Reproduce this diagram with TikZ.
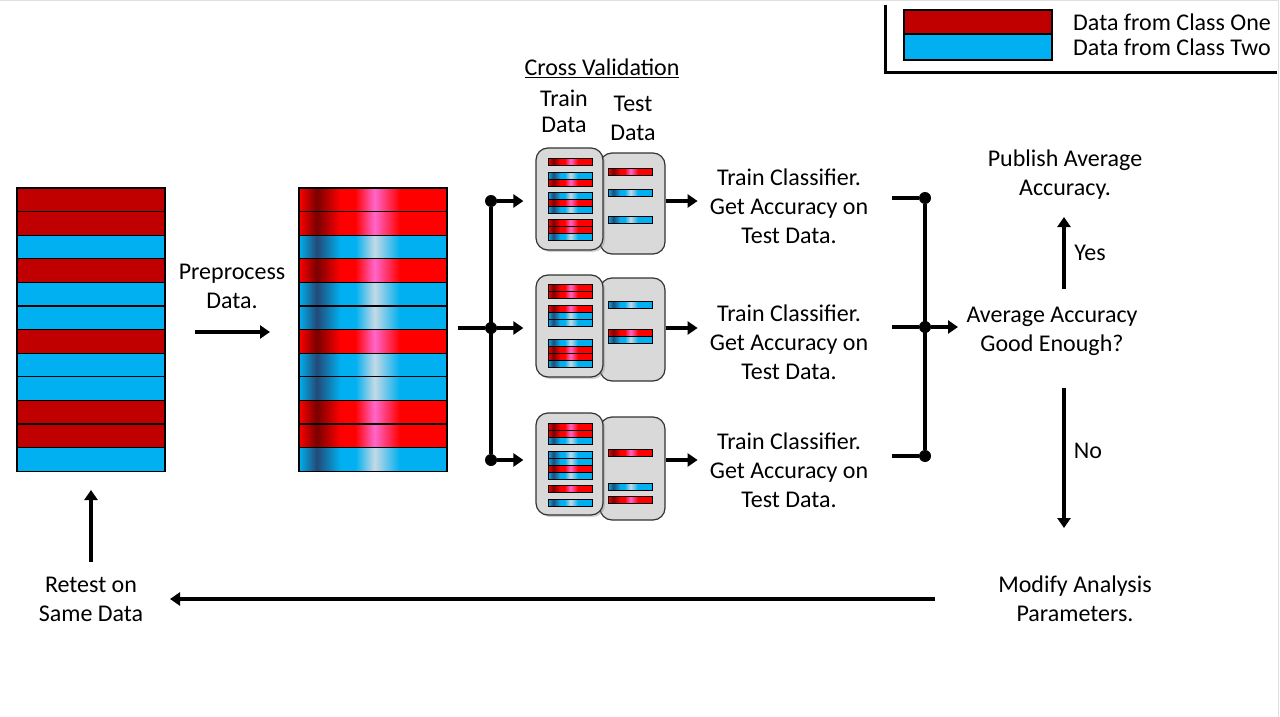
\documentclass[tikz,border=0pt]{standalone}
\usepackage{fontspec}
\setmainfont{Carlito}
\usepackage{tikz}
\usetikzlibrary{arrows.meta,positioning,calc,shadows}

\definecolor{clsone}{HTML}{C00000}
\definecolor{clstwo}{HTML}{00B0F0}
\definecolor{redA}{HTML}{FF0000}
\definecolor{redD}{HTML}{7A0000}
\definecolor{redP}{HTML}{FF66CC}
\definecolor{bluA}{HTML}{00B0F0}
\definecolor{bluD}{HTML}{234A78}
\definecolor{bluP}{HTML}{C5D9E6}
\definecolor{boxgrey}{HTML}{D9D9D9}

\pgfdeclarehorizontalshading{redgrad}{100bp}{color(0bp)=(redA); color(25bp)=(redA);
  color(31bp)=(redD); color(39bp)=(redA); color(44bp)=(redA); color(50.5bp)=(redP);
  color(59bp)=(redA); color(75bp)=(redA); color(100bp)=(redA)}
\pgfdeclarehorizontalshading{bluegrad}{100bp}{color(0bp)=(bluA); color(25bp)=(bluA);
  color(31bp)=(bluD); color(39bp)=(bluA); color(44bp)=(bluA); color(50.5bp)=(bluP);
  color(59bp)=(bluA); color(75bp)=(bluA); color(100bp)=(bluA)}

\tikzset{
  txt/.style={align=center,font=\fontsize{24}{29}\selectfont,inner sep=0pt},
  flow/.style={line width=3.5pt,-{Triangle[length=10pt,width=13pt]}},
  wire/.style={line width=3.5pt},
  dot/.style={circle,fill=black,inner sep=0pt,minimum size=12pt},
  rowr/.style={draw=black,line width=1.2pt,fill=clsone},
  rowb/.style={draw=black,line width=1.2pt,fill=clstwo},
  shr/.style={draw=black,line width=1.2pt,shading=redgrad},
  shb/.style={draw=black,line width=1.2pt,shading=bluegrad},
  barr/.style={draw=black,line width=1pt,shading=redgrad},
  barb/.style={draw=black,line width=1pt,shading=bluegrad},
  cvbox/.style={draw=black!80,line width=1.2pt,fill=boxgrey,rounded corners=12pt,
    minimum width=67pt,minimum height=102pt,inner sep=0pt}
}

% rows of one cross validation box: x of left edge, list of top/colour
\newcommand{\cvbars}[2]{\foreach \yy/\cc in {#2} {\path[bar\cc] (#1,\yy) rectangle ++(44,7);}}

\begin{document}
\begin{tikzpicture}[x=1pt,y=-1pt]
    \useasboundingbox (0,0) rectangle (1280,717);
    \draw[black!12,line width=1pt] (0,0.5) -- (1278,0.5) -- (1278,717);

    % raw data and preprocessed data
    \foreach \c [count=\i from 0] in {r,r,b,r,b,b,r,b,b,r,r,b} {
        \path[row\c] (17,188+23.6*\i) rectangle ++(148,23.6);
        \path[sh\c] (299,188+23.6*\i) rectangle ++(148,23.6);
    }
    \node[inner sep=0pt,minimum width=148pt,minimum height=283pt] (raw) at (91,329.6) {};
    \node[inner sep=0pt,minimum width=148pt,minimum height=283pt] (prepped) at (373,329.6) {};

    \node[txt] (prep) at (232,286) {Preprocess\\Data.};
    \coordinate (prepA) at (195,332);
    \coordinate (prepB) at (270,332);
    \draw[flow] (prepA) -- (prepB);

    % cross validation
    \node[txt,anchor=base] (cv) at (602,76) {\underline{Cross Validation}};
    \node[txt,font=\fontsize{24}{26}\selectfont] (traintxt) at (564,111) {Train\\Data};
    \node[txt] (testtxt) at (633,118) {Test\\Data};

    \node[cvbox,minimum width=65pt,minimum height=101pt] (test1) at (632.5,203.5) {};
    \node[cvbox,drop shadow={shadow xshift=2pt,shadow yshift=-2pt,opacity=0.35}] (train1) at (569.5,199) {};
    \node[cvbox,minimum width=65pt,minimum height=103pt] (test2) at (632.5,329.5) {};
    \node[cvbox,drop shadow={shadow xshift=2pt,shadow yshift=-2pt,opacity=0.35}] (train2) at (569.5,326) {};
    \node[cvbox,minimum width=65pt,minimum height=103pt] (test3) at (632.5,468.5) {};
    \node[cvbox,drop shadow={shadow xshift=2pt,shadow yshift=-2pt,opacity=0.35}] (train3) at (569.5,464) {};

    \cvbars{548}{158/r,172/b,179/r,192/b,199/r,206/b,219/r,226/r,233/b}
    \cvbars{608}{168/r,189/b,216/b}
    \cvbars{548}{284/r,291/r,305/r,312/b,319/b,339/b,346/r,353/r,360/b}
    \cvbars{608}{301/b,329/r,336/b}
    \cvbars{548}{423/r,430/r,437/b,451/b,458/b,465/r,472/b,485/r,499/b}
    \cvbars{608}{449/r,483/b,496/r}

    % split to the folds
    \node[dot] (split) at (491,328) {};
    \node[dot] (s1) at (491,201) {};
    \node[dot] (s3) at (491,460) {};
    \draw[wire] ([xshift=11pt]prepped.east |- split) -- (split);
    \draw[wire] (s1) -- (s3);
    \draw[flow] (s1) -- ([xshift=-12pt]train1.west |- s1);
    \draw[flow] (split) -- ([xshift=-12pt]train2.west |- split);
    \draw[flow] (s3) -- ([xshift=-12pt]train3.west |- s3);

    \node[txt] (cls1) at (789,206) {Train Classifier.\\Get Accuracy on\\Test Data.};
    \node[txt] (cls2) at (789,342) {Train Classifier.\\Get Accuracy on\\Test Data.};
    \node[txt] (cls3) at (789,470) {Train Classifier.\\Get Accuracy on\\Test Data.};
    \draw[flow] (test1.east |- s1) -- ([xshift=32pt]test1.east |- s1);
    \draw[flow] (test2.east |- split) -- ([xshift=32pt]test2.east |- split);
    \draw[flow] (test3.east |- s3) -- ([xshift=32pt]test3.east |- s3);

    % merge the folds
    \node[dot] (m1) at (925,198) {};
    \node[dot] (m2) at (925,327) {};
    \node[dot] (m3) at (925,456) {};
    \draw[wire] (m1) -- (m3);
    \draw[wire] ([xshift=-33pt]m1.center) -- (m1);
    \draw[wire] ([xshift=-33pt]m2.center) -- (m2);
    \draw[wire] ([xshift=-33pt]m3.center) -- (m3);

    \node[txt] (avg) at (1052,331) {Average Accuracy\\Good Enough?};
    \draw[flow] (m2) -- ([xshift=33pt]m2.center);

    \node[txt] (pub) at (1065,175) {Publish Average\\Accuracy.};
    \node[txt] (yes) at (1090,253) {Yes};
    \coordinate (yesA) at (1064,289);
    \coordinate (yesB) at (1064,217);
    \draw[flow] (yesA) -- (yesB);

    \node[txt] (no) at (1088,451) {No};
    \coordinate (noA) at (1064,388);
    \coordinate (noB) at (1064,528);
    \draw[flow] (noA) -- (noB);

    \node[txt] (mod) at (1075,599) {Modify Analysis\\Parameters.};
    \node[txt] (retest) at (91,599) {Retest on\\Same Data};
    \coordinate (backA) at (935,599);
    \coordinate (backB) at (170,599);
    \draw[flow] (backA) -- (backB);
    \draw[flow] (retest.north |- 0,562) -- (retest.north |- 0,490);

    % legend
    \draw[rowr] (904,10) rectangle (1052,34);
    \draw[rowb] (904,34) rectangle (1052,60);
    \node[txt,anchor=west] (lg1) at (1073,22) {Data from Class One};
    \node[txt,anchor=west] (lg2) at (1073,47) {Data from Class Two};
    \draw[line width=3pt] (885,5) -- (885,73) -- (1277,73);
\end{tikzpicture}
\end{document}
